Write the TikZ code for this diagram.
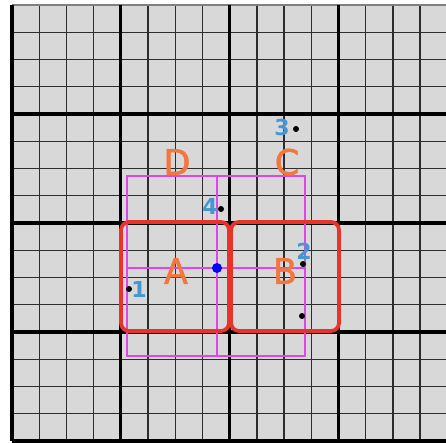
\documentclass[tikz,border=0pt]{standalone}
\usepackage{fontspec}
\setmainfont{DejaVu Sans}
\newfontfamily\letterfont[FakeBold=1.6]{DejaVu Sans}
\definecolor{gridbg}{RGB}{216,216,216}
\definecolor{thinline}{RGB}{45,45,45}
\definecolor{redbox}{RGB}{232,52,40}
\definecolor{magline}{RGB}{222,70,235}
\definecolor{orangelab}{RGB}{242,118,62}
\definecolor{bluenum}{RGB}{70,150,210}
\begin{document}
\begin{tikzpicture}[x=1pt,y=-1pt,
  thingrid/.style={draw=thinline,line width=1.4pt},
  thickgrid/.style={draw=black,line width=3.2pt},
  redframe/.style={draw=redbox,line width=3.8pt,rounded corners=8pt},
  magenta/.style={draw=magline,line width=1.4pt},
  bigletter/.style={text=orangelab,font=\letterfont\fontsize{35}{35}\selectfont,inner sep=0pt},
  numlabel/.style={text=bluenum,font=\fontsize{22}{22}\selectfont\bfseries,inner sep=0pt},
  pt/.style={circle,fill=black,inner sep=0pt,minimum size=6pt},
  bluept/.style={circle,fill=blue,inner sep=0pt,minimum size=10pt}]
\useasboundingbox (0,0) rectangle (446,443);
\begin{scope}
\clip (0,0) rectangle (446,443);
\fill[gridbg] (12,5) rectangle (448,441);
\foreach \i in {0,...,16} {
  \draw[thingrid] ({12+27.2*\i},5) -- ({12+27.2*\i},441);
}
\foreach \i in {1,...,16} {
  \draw[thingrid] (12,{5+27.25*\i}) -- (448,{5+27.25*\i});
}
\draw[draw=gray,line width=1.6pt] (12,5) -- (448,5);
\foreach \i in {0,4,8,12,16} {
  \draw[thickgrid] ({12+27.2*\i},5) -- ({12+27.2*\i},441);
}
\foreach \i in {4,8,12,16} {
  \draw[thickgrid] (12,{5+27.25*\i}) -- (448,{5+27.25*\i});
}
\end{scope}
% magenta window
\coordinate (m1) at (127,176);
\coordinate (m2) at (305,356);
\coordinate (ml) at (127,268);
\coordinate (mr) at (305,268);
\coordinate (mt) at (217,176);
\coordinate (mb) at (217,356);
\draw[magenta] (m1) rectangle (m2);
\draw[magenta] (ml) -- (mr);
\draw[magenta] (mt) -- (mb);
% red boxes
\draw[redframe] (121,222) rectangle (229,331);
\draw[redframe] (231,222) rectangle (339,331);
% letters
\node[bigletter] (D) at (177,162) {D};
\node[bigletter] (C) at (287,162) {C};
\node[bigletter] (A) at (176,271) {A};
\node[bigletter] (B) at (285,271) {B};
% points
\node[pt] (p3) at (296,129) {};
\node[pt] (p4) at (221,209) {};
\node[pt] (p2) at (303,264) {};
\node[pt] (p5) at (302,316) {};
\node[pt] (p1) at (129,289) {};
\node[bluept] (c) at (217,268) {};
% numbers
\node[numlabel] (n3) at (282,127) {3};
\node[numlabel] (n4) at (210,206) {4};
\node[numlabel] (n2) at (304,251) {2};
\node[numlabel] (n1) at (139,289) {1};
\end{tikzpicture}
\end{document}
